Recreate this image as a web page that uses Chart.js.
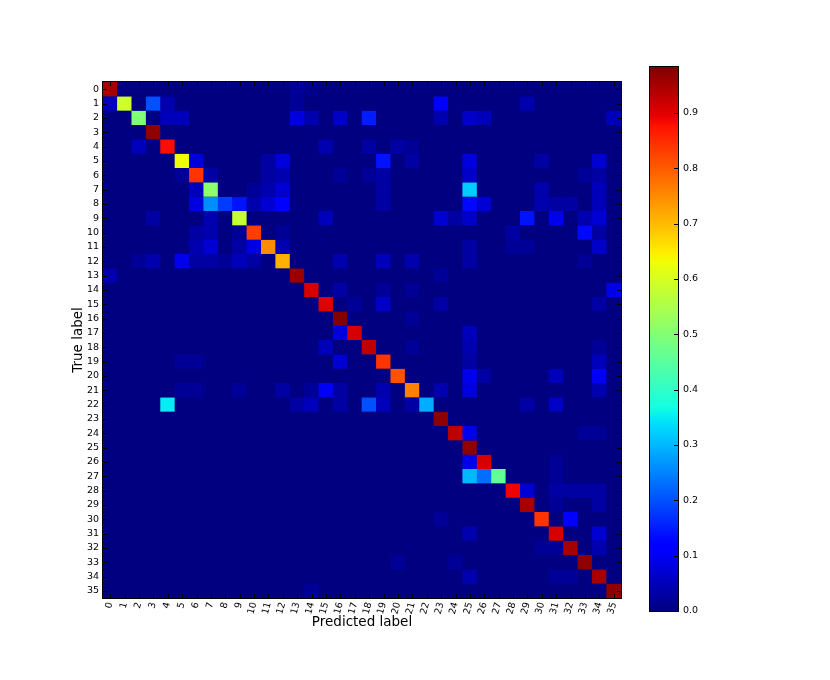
<!DOCTYPE html>
<html>
<head>
<meta charset="utf-8">
<script src="https://cdn.jsdelivr.net/npm/chart.js@4.4.0/dist/chart.umd.min.js"></script>
<style>
  body { margin: 0; background: #fff; }
  #wrap { position: relative; width: 830px; height: 680px; }
  #cm { position: absolute; left: 0; top: 0; }
  #cbar { position: absolute; left: 620px; top: 0; }
</style>
</head>
<body>
<div id="wrap">
  <canvas id="cm" width="640" height="680"></canvas>
  <canvas id="cbar" width="210" height="680"></canvas>
</div>
<script>
// class names (rows = true label, cols = predicted label)
const classes = ['0','1','2','3','4','5','6','7','8','9','10','11','12','13','14','15','16','17',
                 '18','19','20','21','22','23','24','25','26','27','28','29','30','31','32','33','34','35'];

// normalized confusion matrix, diagonal
const diag = [0.95, 0.59, 0.50, 0.97, 0.88, 0.63, 0.84, 0.51, 0.18, 0.58, 0.83, 0.75,
              0.71, 0.96, 0.91, 0.90, 0.98, 0.91, 0.93, 0.84, 0.81, 0.76, 0.29, 0.97,
              0.93, 0.97, 0.91, 0.46, 0.89, 0.95, 0.84, 0.91, 0.95, 0.97, 0.95, 0.97];

// off-diagonal cells [true, predicted, value]
const offDiag = [
  [0,13,0.02],[0,14,0.01],
  [1,0,0.05],[1,3,0.20],[1,4,0.04],[1,13,0.02],[1,23,0.12],[1,29,0.04],
  [2,4,0.05],[2,5,0.05],[2,13,0.08],[2,14,0.04],[2,16,0.06],[2,18,0.15],[2,23,0.04],[2,25,0.06],[2,26,0.05],[2,35,0.05],
  [4,2,0.05],[4,15,0.04],[4,18,0.03],[4,20,0.03],[4,21,0.02],
  [5,6,0.08],[5,11,0.03],[5,12,0.08],[5,19,0.14],[5,21,0.03],[5,25,0.08],[5,30,0.03],[5,34,0.07],
  [6,5,0.02],[6,7,0.03],[6,11,0.03],[6,12,0.04],[6,16,0.02],[6,18,0.02],[6,19,0.03],[6,25,0.06],[6,33,0.02],[6,34,0.03],
  [7,6,0.05],[7,10,0.02],[7,11,0.04],[7,12,0.07],[7,19,0.03],[7,25,0.32],[7,30,0.04],[7,34,0.05],
  [8,6,0.08],[8,7,0.26],[8,9,0.14],[8,10,0.04],[8,11,0.07],[8,12,0.12],[8,19,0.03],[8,25,0.13],[8,26,0.07],[8,30,0.04],[8,31,0.03],[8,32,0.03],[8,34,0.05],
  [9,3,0.03],[9,7,0.04],[9,15,0.05],[9,23,0.07],[9,24,0.03],[9,25,0.06],[9,29,0.14],[9,31,0.09],[9,33,0.04],[9,34,0.07],
  [10,6,0.03],[10,7,0.04],[10,9,0.02],[10,12,0.02],[10,28,0.03],[10,33,0.13],[10,34,0.03],
  [11,6,0.04],[11,7,0.07],[11,9,0.03],[11,10,0.08],[11,12,0.04],[11,25,0.03],[11,28,0.02],[11,29,0.02],[11,34,0.06],
  [12,2,0.02],[12,3,0.04],[12,5,0.09],[12,6,0.03],[12,7,0.03],[12,8,0.02],[12,9,0.05],[12,10,0.03],[12,16,0.04],[12,19,0.05],[12,21,0.04],[12,25,0.03],[12,33,0.02],
  [13,0,0.04],[13,23,0.02],
  [14,16,0.03],[14,19,0.02],[14,21,0.02],[14,35,0.09],
  [15,17,0.02],[15,19,0.06],[15,23,0.03],[15,34,0.03],
  [16,21,0.02],
  [17,16,0.08],[17,25,0.05],
  [18,15,0.05],[18,21,0.02],[18,25,0.04],[18,34,0.02],
  [19,5,0.02],[19,6,0.02],[19,16,0.07],[19,25,0.03],[19,34,0.05],
  [20,25,0.09],[20,26,0.03],[20,31,0.05],[20,34,0.10],
  [21,5,0.02],[21,6,0.02],[21,9,0.02],[21,12,0.03],[21,14,0.02],[21,15,0.10],[21,16,0.03],[21,19,0.04],[21,23,0.04],[21,25,0.08],[21,34,0.04],
  [22,4,0.35],[22,13,0.03],[22,14,0.05],[22,16,0.03],[22,18,0.20],[22,19,0.05],[22,21,0.03],[22,29,0.03],[22,31,0.06],
  [24,25,0.09],[24,33,0.02],[24,34,0.02],
  [26,25,0.09],[26,31,0.02],
  [27,25,0.30],[27,26,0.23],[27,31,0.02],
  [28,29,0.07],[28,31,0.03],[28,32,0.03],[28,33,0.03],[28,34,0.03],
  [29,31,0.02],[29,34,0.03],
  [30,23,0.02],[30,32,0.12],
  [31,25,0.04],[31,34,0.07],
  [32,30,0.02],[32,31,0.02],[32,34,0.04],
  [33,20,0.02],[33,24,0.02],
  [34,25,0.04],[34,31,0.02],[34,32,0.02],
  [35,14,0.02]
];

const vmax = 0.983;
const cbTicks = [0.0, 0.1, 0.2, 0.3, 0.4, 0.5, 0.6, 0.7, 0.8, 0.9];

const FONT = 'DejaVu Sans';

// matplotlib "jet"
const JR = [[0,0],[0.35,0],[0.66,1],[0.89,1],[1,0.5]];
const JG = [[0,0],[0.125,0],[0.375,1],[0.64,1],[0.91,0],[1,0]];
const JB = [[0,0.5],[0.11,1],[0.34,1],[0.65,0],[1,0]];
function seg(pts, v) {
  for (let k = 1; k < pts.length; k++) {
    if (v <= pts[k][0]) {
      const [x0, y0] = pts[k-1], [x1, y1] = pts[k];
      return y0 + (y1 - y0) * (v - x0) / (x1 - x0);
    }
  }
  return pts[pts.length-1][1];
}
function jet(v) {
  v = Math.max(0, Math.min(1, v));
  const c = p => Math.round(255 * seg(p, v));
  return 'rgb(' + c(JR) + ',' + c(JG) + ',' + c(JB) + ')';
}

// build matrix
const matrix = classes.map(() => classes.map(() => 0));
diag.forEach((v, i) => { matrix[i][i] = v; });
offDiag.forEach(([r, c, v]) => { matrix[r][c] = v; });

const datasets = matrix.map((row, i) => ({
  data: classes.map(() => [i, i + 1]),
  backgroundColor: row.map(v => jet(v / vmax)),
  borderWidth: 0
}));

const frame = {
  id: 'frame',
  beforeDatasetsDraw(chart) {
    const {ctx, chartArea: a} = chart;
    ctx.save();
    ctx.fillStyle = jet(0);
    ctx.fillRect(a.left, a.top, a.right - a.left, a.bottom - a.top);
    ctx.restore();
  },
  afterDatasetsDraw(chart) {
    const {ctx, chartArea: a, scales: {x, y}} = chart;
    ctx.save();
    ctx.strokeStyle = '#000';
    ctx.lineWidth = 1;
    ctx.beginPath();
    classes.forEach((c, i) => {
      const px = Math.round(x.getPixelForValue(i)) + 0.5;
      ctx.moveTo(px, a.top); ctx.lineTo(px, a.top + 4);
      ctx.moveTo(px, a.bottom); ctx.lineTo(px, a.bottom - 4);
      const py = Math.round(y.getPixelForValue(i + 0.5)) + 0.5;
      ctx.moveTo(a.left, py); ctx.lineTo(a.left + 4, py);
      ctx.moveTo(a.right, py); ctx.lineTo(a.right - 4, py);
    });
    ctx.stroke();
    ctx.strokeRect(Math.round(a.left) - 0.5, Math.round(a.top) - 0.5,
                   Math.round(a.right - a.left) + 1, Math.round(a.bottom - a.top) + 1);
    ctx.restore();
  }
};

new Chart(document.getElementById('cm'), {
  type: 'bar',
  data: { labels: classes, datasets: datasets },
  options: {
    responsive: false,
    animation: false,
    layout: { padding: { left: 66, top: 82, right: 19, bottom: 45 } },
    plugins: { legend: { display: false }, tooltip: { enabled: false } },
    datasets: { bar: { grouped: false, barPercentage: 1.04, categoryPercentage: 1 } },
    scales: {
      x: {
        type: 'category',
        grid: { display: false, drawTicks: false },
        border: { display: false },
        ticks: { color: '#000', font: { family: FONT, size: 9.5 }, minRotation: 75, maxRotation: 75, padding: 3, autoSkip: false },
        title: { display: true, text: 'Predicted label', color: '#000', font: { family: FONT, size: 13.5 } },
        afterFit: s => { s.height = 37; }
      },
      y: {
        type: 'linear',
        min: 0,
        max: 36,
        reverse: true,
        afterBuildTicks: s => { s.ticks = classes.map((c, i) => ({ value: i + 0.5 })); },
        grid: { display: false, drawTicks: false },
        border: { display: false },
        ticks: { color: '#000', font: { family: FONT, size: 9.5 }, padding: 4, autoSkip: false,
                 callback: (v, i) => classes[i] },
        title: { display: true, text: 'True label', color: '#000', font: { family: FONT, size: 13.5 } },
        afterFit: s => { s.width = 37; }
      }
    }
  },
  plugins: [frame]
});

// colorbar
const cbFrame = {
  id: 'cbFrame',
  afterDatasetsDraw(chart) {
    const {ctx, chartArea: a, scales: {y}} = chart;
    ctx.save();
    ctx.strokeStyle = '#000';
    ctx.lineWidth = 1;
    ctx.beginPath();
    cbTicks.forEach(t => {
      const py = Math.round(y.getPixelForValue(t)) + 0.5;
      ctx.moveTo(a.right, py); ctx.lineTo(a.right - 4, py);
    });
    ctx.stroke();
    ctx.strokeRect(Math.round(a.left) - 0.5, Math.round(a.top) - 0.5,
                   Math.round(a.right - a.left) + 1, Math.round(a.bottom - a.top) + 1);
    ctx.restore();
  }
};

new Chart(document.getElementById('cbar'), {
  type: 'bar',
  data: {
    labels: [''],
    datasets: [{
      data: [[0, vmax]],
      borderWidth: 0,
      backgroundColor: c => {
        const a = c.chart.chartArea;
        if (!a) return jet(0);
        const g = c.chart.ctx.createLinearGradient(0, a.bottom, 0, a.top);
        for (let k = 0; k <= 100; k++) g.addColorStop(k / 100, jet(k / 100));
        return g;
      }
    }]
  },
  options: {
    responsive: false,
    animation: false,
    layout: { padding: { left: 30, top: 67, right: 112, bottom: 69 } },
    plugins: { legend: { display: false }, tooltip: { enabled: false } },
    datasets: { bar: { barPercentage: 1, categoryPercentage: 1 } },
    scales: {
      x: { display: false },
      y: {
        position: 'right',
        min: 0,
        max: vmax,
        afterBuildTicks: s => { s.ticks = cbTicks.map(v => ({ value: v })); },
        grid: { display: false, drawTicks: false },
        border: { display: false },
        ticks: { color: '#000', font: { family: FONT, size: 9.5 }, padding: 5,
                 callback: v => v.toFixed(1) },
        afterFit: s => { s.width = 40; }
      }
    }
  },
  plugins: [cbFrame]
});
</script>
</body>
</html>
